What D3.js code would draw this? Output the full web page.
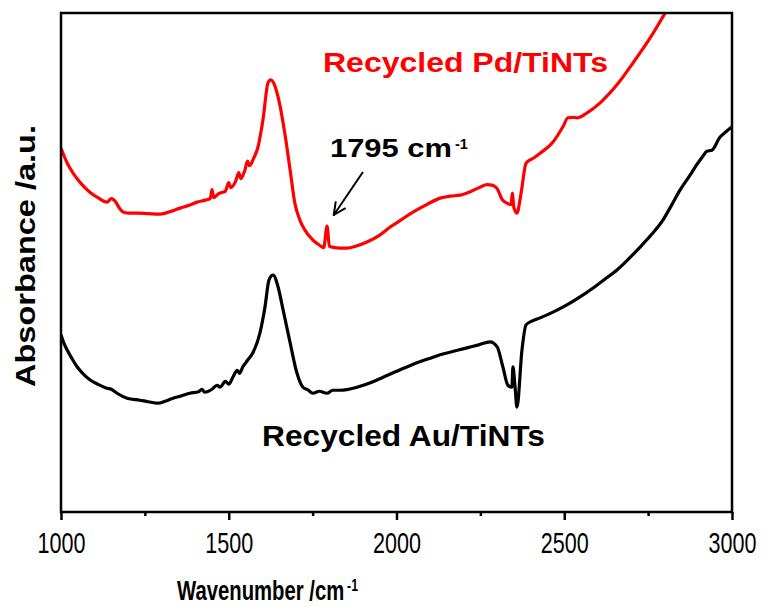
<!DOCTYPE html>
<html>
<head>
<meta charset="utf-8">
<script src="https://cdn.jsdelivr.net/npm/d3@7"></script>
<style>
  html, body { margin: 0; padding: 0; background: #fff; }
  svg { display: block; }
  text { font-family: "Liberation Sans", Arial, sans-serif; }
</style>
</head>
<body>
<div id="chart"></div>
<script>
// ---- data (wavenumber, absorbance a.u.) ----
const pdWavenumber = [1000,1018,1036,1060,1086,1110,1137,1150,1160,1175,1185,1200,1227,1260,1295,1330,1355,1380,1405,1430,1445,1450,1455,1470,1490,1500,1506,1520,1530,1536,1548,1556,1562,1575,1587,1602,1617,1625,1632,1647,1668,1683,1697,1712,1727,1751,1770,1783,1793,1800,1830,1852,1880,1912,1950,1981,2015,2049,2090,2130,2160,2189,2220,2249,2270,2285,2300,2315,2329,2342,2345,2350,2359,2368,2374,2386,2410,2428,2466,2496,2511,2525,2538,2568,2607,2657,2705,2756,2805];
const pdAbsorbance = [72.9,70.0,67.9,65.8,64.1,63.0,62.1,62.8,62.4,60.8,60.1,59.9,59.9,59.8,59.7,60.3,60.9,61.4,62.1,62.5,62.8,64.6,63.0,63.8,64.3,66.0,65.0,66.2,68.0,66.8,68.5,70.3,69.4,71.0,73.1,78.6,86.0,86.6,86.2,83.2,75.5,68.5,61.9,58.5,56.5,54.5,53.5,53.0,57.3,53.2,52.9,52.9,53.3,54.1,55.5,57.1,58.6,60.1,61.6,62.9,63.3,63.5,64.2,65.1,65.6,65.5,64.8,62.6,61.9,61.6,63.9,61.0,59.9,62.5,65.1,69.9,71.0,71.9,74.1,77.2,79.0,79.1,79.0,80.0,82.0,85.6,90.0,95.0,100.5];

const auWavenumber = [1000,1009,1018,1033,1048,1066,1086,1110,1137,1150,1167,1197,1235,1260,1289,1310,1334,1360,1384,1410,1420,1428,1450,1465,1474,1490,1500,1513,1525,1532,1542,1556,1572,1593,1608,1620,1632,1647,1662,1683,1703,1721,1735,1751,1770,1793,1810,1832,1882,1930,1960,1990,2025,2061,2095,2130,2170,2210,2245,2279,2300,2317,2332,2344,2347,2353,2359,2374,2386,2405,2428,2468,2508,2547,2586,2620,2657,2690,2726,2760,2794,2820,2845,2875,2895,2911,2925,2940,2964,2982,3000];
const auAbsorbance = [35.5,33.8,32.5,30.7,29.1,27.7,26.5,25.6,24.8,24.6,23.8,22.8,22.4,22.1,21.8,22.2,22.8,23.3,23.8,24.1,24.6,24.0,24.6,25.4,25.0,26.2,25.6,27.1,28.4,27.8,29.1,30.4,31.9,35.9,41.1,46.5,47.5,45.1,40.5,33.9,27.9,25.0,24.5,23.8,24.2,23.8,24.4,24.4,25.0,26.1,27.0,27.9,28.9,29.9,30.7,31.5,32.2,32.9,33.5,34.1,33.1,29.1,25.4,25.0,29.1,25.4,21.0,32.5,37.5,38.3,38.9,40.1,41.5,43.1,44.9,46.6,48.5,50.6,53.1,55.6,58.5,61.5,64.5,67.5,69.6,71.1,72.3,72.5,75.1,76.2,77.2];

const xTicks = [1000, 1500, 2000, 2500, 3000];
const xMinorTicks = [1250, 1750, 2250, 2750];
const seriesLabels = ["Recycled Pd/TiNTs", "Recycled Au/TiNTs"];
const annotation = "1795 cm";
const xTitle = "Wavenumber /cm";
const yTitle = "Absorbance /a.u.";
const unitSup = "-1";

// ---- layout ----
const W = 775, H = 607;
const m = { left: 61, right: 732, top: 13, bottom: 512 };

const svg = d3.select("#chart").append("svg")
  .attr("width", W).attr("height", H);
svg.append("rect").attr("width", W).attr("height", H).attr("fill", "#fff");

const x = d3.scaleLinear().domain([1000, 3000]).range([m.left, m.right]);
const y = d3.scaleLinear().domain([0, 100]).range([m.bottom, m.top]);

svg.append("defs").append("clipPath").attr("id", "clip")
  .append("rect").attr("x", m.left).attr("y", m.top)
  .attr("width", m.right - m.left).attr("height", m.bottom - m.top);

const line = d3.line().x(d => x(d[0])).y(d => y(d[1])).curve(d3.curveMonotoneX);

const pd = pdWavenumber.map((w, i) => [w, pdAbsorbance[i]]);
const au = auWavenumber.map((w, i) => [w, auAbsorbance[i]]);

const g = svg.append("g").attr("clip-path", "url(#clip)");
g.append("path").datum(pd).attr("d", line)
  .attr("fill", "none").attr("stroke", "#ff0000").attr("stroke-width", 3.2)
  .attr("stroke-linejoin", "round");
g.append("path").datum(au).attr("d", line)
  .attr("fill", "none").attr("stroke", "#000").attr("stroke-width", 3.2)
  .attr("stroke-linejoin", "round");

// frame
svg.append("rect").attr("x", m.left).attr("y", m.top)
  .attr("width", m.right - m.left).attr("height", m.bottom - m.top)
  .attr("fill", "none").attr("stroke", "#000").attr("stroke-width", 2.5);

// x axis
const xAxis = d3.axisBottom(x).tickValues(xTicks).tickSize(8).tickPadding(12)
  .tickFormat(d3.format("d"));
const ax = svg.append("g").attr("transform", `translate(0,${m.bottom})`).call(xAxis);
ax.select(".domain").remove();
ax.selectAll(".tick line").attr("stroke", "#000").attr("stroke-width", 2.5);
ax.selectAll(".tick text")
  .attr("font-size", 30).attr("font-family", "Liberation Sans, Arial, sans-serif")
  .attr("fill", "#000")
  .attr("textLength", 48).attr("lengthAdjust", "spacingAndGlyphs");

const axMinor = d3.axisBottom(x).tickValues(xMinorTicks).tickSize(4).tickFormat("");
const am = svg.append("g").attr("transform", `translate(0,${m.bottom})`).call(axMinor);
am.select(".domain").remove();
am.selectAll(".tick line").attr("stroke", "#000").attr("stroke-width", 2.5);

// x title with superscript (condensed horizontally like the reference)
const xt = svg.append("text").attr("transform", "translate(177,600) scale(0.725,1)")
  .attr("font-size", 28).attr("font-weight", "bold");
xt.append("tspan").text(xTitle);
xt.append("tspan").attr("dx", 4).attr("dy", -9).attr("font-size", 17).text(unitSup);

// y title
svg.append("text")
  .attr("transform", `translate(35,${(125 + 387) / 2}) rotate(-90)`)
  .attr("text-anchor", "middle")
  .attr("font-size", 28).attr("font-weight", "bold")
  .attr("textLength", 262).attr("lengthAdjust", "spacingAndGlyphs")
  .text(yTitle);

// series labels
svg.append("text").attr("x", 323).attr("y", 72)
  .attr("font-size", 28).attr("font-weight", "bold").attr("fill", "#ff0000")
  .attr("textLength", 285).attr("lengthAdjust", "spacingAndGlyphs")
  .text(seriesLabels[0]);
svg.append("text").attr("x", 262).attr("y", 446)
  .attr("font-size", 30).attr("font-weight", "bold").attr("fill", "#000")
  .attr("textLength", 283).attr("lengthAdjust", "spacingAndGlyphs")
  .text(seriesLabels[1]);

// annotation with superscript
const an = svg.append("text").attr("x", 330).attr("y", 157)
  .attr("font-size", 26).attr("font-weight", "bold");
an.append("tspan").attr("textLength", 122).attr("lengthAdjust", "spacingAndGlyphs").text(annotation);
an.append("tspan").attr("dx", 3).attr("dy", -8).attr("font-size", 14)
  .attr("textLength", 13).attr("lengthAdjust", "spacingAndGlyphs").text(unitSup);

// arrow pointing to the 1795 band
const ax0 = x(1900), ay0 = 172, ax1 = x(1813), ay1 = 215;
svg.append("line").attr("x1", ax0).attr("y1", ay0).attr("x2", ax1).attr("y2", ay1)
  .attr("stroke", "#000").attr("stroke-width", 2);
const ang = Math.atan2(ay1 - ay0, ax1 - ax0);
const hl = 13, spread = 0.45;
[ang + Math.PI - spread, ang + Math.PI + spread].forEach(a => {
  svg.append("line").attr("x1", ax1).attr("y1", ay1)
    .attr("x2", ax1 + hl * Math.cos(a)).attr("y2", ay1 + hl * Math.sin(a))
    .attr("stroke", "#000").attr("stroke-width", 2).attr("stroke-linecap", "round");
});
</script>
</body>
</html>
